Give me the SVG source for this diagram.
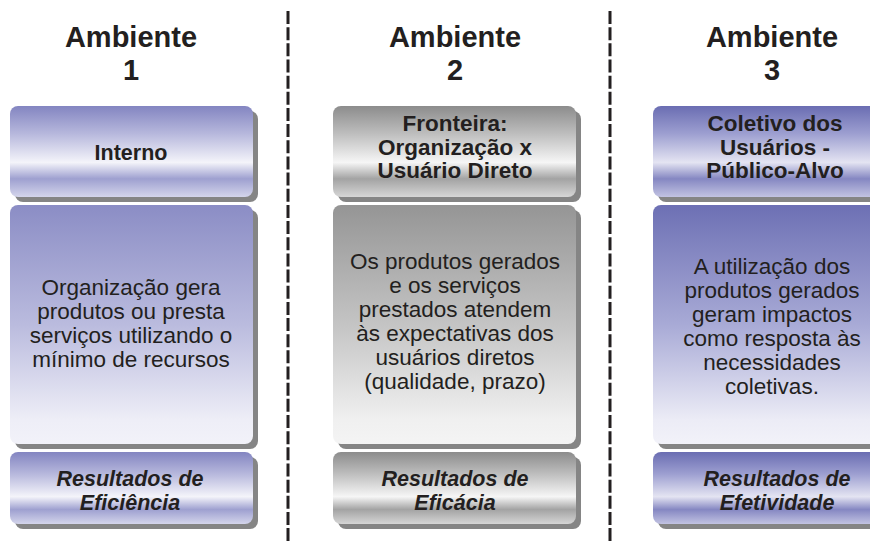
<svg xmlns="http://www.w3.org/2000/svg" width="870" height="544" viewBox="0 0 870 544">
<style>
text{font-family:"Liberation Sans",Arial,sans-serif;fill:#231f20;text-anchor:middle}
.title{font-size:29px;font-weight:bold}
.head{font-size:22.5px;font-weight:bold}
.body{font-size:22.5px}
.res{font-size:21.5px;font-weight:bold;font-style:italic}
.sh{fill:#858585}
.dash{stroke:#231f20;stroke-width:3;stroke-dasharray:13 3.16;fill:none}
</style>
<defs>
<linearGradient id="lavH" x1="0" y1="0" x2="0" y2="1">
<stop offset="0" stop-color="#8385c1"/>
<stop offset="0.3" stop-color="#b6b7dc"/>
<stop offset="0.62" stop-color="#f4f4fa"/>
<stop offset="0.8" stop-color="#9ea0d0"/>
<stop offset="1" stop-color="#d4d5eb"/>
</linearGradient>
<linearGradient id="lavB" x1="0" y1="0" x2="0" y2="1">
<stop offset="0" stop-color="#8b8dc5"/>
<stop offset="0.5" stop-color="#babbde"/>
<stop offset="0.9" stop-color="#eeeef7"/>
<stop offset="1" stop-color="#f2f2f9"/>
</linearGradient>
<linearGradient id="grH" x1="0" y1="0" x2="0" y2="1">
<stop offset="0" stop-color="#8c8c8c"/>
<stop offset="0.3" stop-color="#bdbdbd"/>
<stop offset="0.62" stop-color="#f6f6f6"/>
<stop offset="0.8" stop-color="#a3a3a3"/>
<stop offset="1" stop-color="#d6d6d6"/>
</linearGradient>
<linearGradient id="grB" x1="0" y1="0" x2="0" y2="1">
<stop offset="0" stop-color="#959595"/>
<stop offset="0.5" stop-color="#c4c4c4"/>
<stop offset="0.9" stop-color="#f0f0f0"/>
<stop offset="1" stop-color="#f4f4f4"/>
</linearGradient>
<linearGradient id="blH" x1="0" y1="0" x2="0" y2="1">
<stop offset="0" stop-color="#6a6db2"/>
<stop offset="0.3" stop-color="#9c9ed0"/>
<stop offset="0.62" stop-color="#e4e4f2"/>
<stop offset="0.8" stop-color="#8587c2"/>
<stop offset="1" stop-color="#c2c3e2"/>
</linearGradient>
<linearGradient id="blB" x1="0" y1="0" x2="0" y2="1">
<stop offset="0" stop-color="#6d70b4"/>
<stop offset="0.5" stop-color="#a8aad6"/>
<stop offset="0.9" stop-color="#ececf6"/>
<stop offset="1" stop-color="#f2f2f9"/>
</linearGradient>
</defs>

<g id="connectors">
<line class="dash" x1="288" y1="11" x2="288" y2="542"/>
<line class="dash" x1="610" y1="11" x2="610" y2="542"/>
</g>

<g id="title1"><text class="title" x="131" y="47">Ambiente</text><text class="title" x="131" y="80">1</text></g>
<g id="title2"><text class="title" x="455" y="47">Ambiente</text><text class="title" x="455" y="80">2</text></g>
<g id="title3"><text class="title" x="772" y="47">Ambiente</text><text class="title" x="772" y="80">3</text></g>

<g id="head1">
<rect class="sh" x="15" y="111" width="243" height="91" rx="8"/>
<rect x="10" y="106" width="243" height="91" rx="8" fill="url(#lavH)"/>
<text class="head" x="131" y="160" style="font-size:21.5px">Interno</text>
</g>
<g id="body1">
<rect class="sh" x="15" y="210" width="243" height="239" rx="8"/>
<rect x="10" y="205" width="243" height="239" rx="8" fill="url(#lavB)"/>
<text class="body" x="131" y="295">Organização gera</text>
<text class="body" x="131" y="319">produtos ou presta</text>
<text class="body" x="131" y="343">serviços utilizando o</text>
<text class="body" x="131" y="367">mínimo de recursos</text>
</g>
<g id="res1">
<rect class="sh" x="15" y="457" width="243" height="72" rx="8"/>
<rect x="10" y="452" width="243" height="72" rx="8" fill="url(#lavH)"/>
<text class="res" x="130" y="486">Resultados de</text>
<text class="res" x="130" y="510">Eficiência</text>
</g>

<g id="head2">
<rect class="sh" x="338" y="111" width="243" height="91" rx="8"/>
<rect x="333" y="106" width="243" height="91" rx="8" fill="url(#grH)"/>
<text class="head" x="455" y="131">Fronteira:</text>
<text class="head" x="455" y="154.5">Organização x</text>
<text class="head" x="455" y="178">Usuário Direto</text>
</g>
<g id="body2">
<rect class="sh" x="338" y="210" width="243" height="239" rx="8"/>
<rect x="333" y="205" width="243" height="239" rx="8" fill="url(#grB)"/>
<text class="body" x="455" y="269">Os produtos gerados</text>
<text class="body" x="455" y="293">e os serviços</text>
<text class="body" x="455" y="317">prestados atendem</text>
<text class="body" x="455" y="341">às expectativas dos</text>
<text class="body" x="455" y="365">usuários diretos</text>
<text class="body" x="455" y="389">(qualidade, prazo)</text>
</g>
<g id="res2">
<rect class="sh" x="338" y="457" width="243" height="72" rx="8"/>
<rect x="333" y="452" width="243" height="72" rx="8" fill="url(#grH)"/>
<text class="res" x="455" y="486">Resultados de</text>
<text class="res" x="455" y="510">Eficácia</text>
</g>

<g id="head3">
<rect class="sh" x="658" y="111" width="243" height="91" rx="8"/>
<rect x="653" y="106" width="243" height="91" rx="8" fill="url(#blH)"/>
<text class="head" x="775" y="131">Coletivo dos</text>
<text class="head" x="775" y="154.5">Usuários -</text>
<text class="head" x="775" y="178">Público-Alvo</text>
</g>
<g id="body3">
<rect class="sh" x="658" y="210" width="243" height="239" rx="8"/>
<rect x="653" y="205" width="243" height="239" rx="8" fill="url(#blB)"/>
<text class="body" x="772" y="274">A utilização dos</text>
<text class="body" x="772" y="298">produtos gerados</text>
<text class="body" x="772" y="322">geram impactos</text>
<text class="body" x="772" y="346">como resposta às</text>
<text class="body" x="772" y="370">necessidades</text>
<text class="body" x="772" y="394">coletivas.</text>
</g>
<g id="res3">
<rect class="sh" x="658" y="457" width="243" height="72" rx="8"/>
<rect x="653" y="452" width="243" height="72" rx="8" fill="url(#blH)"/>
<text class="res" x="777" y="486">Resultados de</text>
<text class="res" x="777" y="510">Efetividade</text>
</g>
</svg>
